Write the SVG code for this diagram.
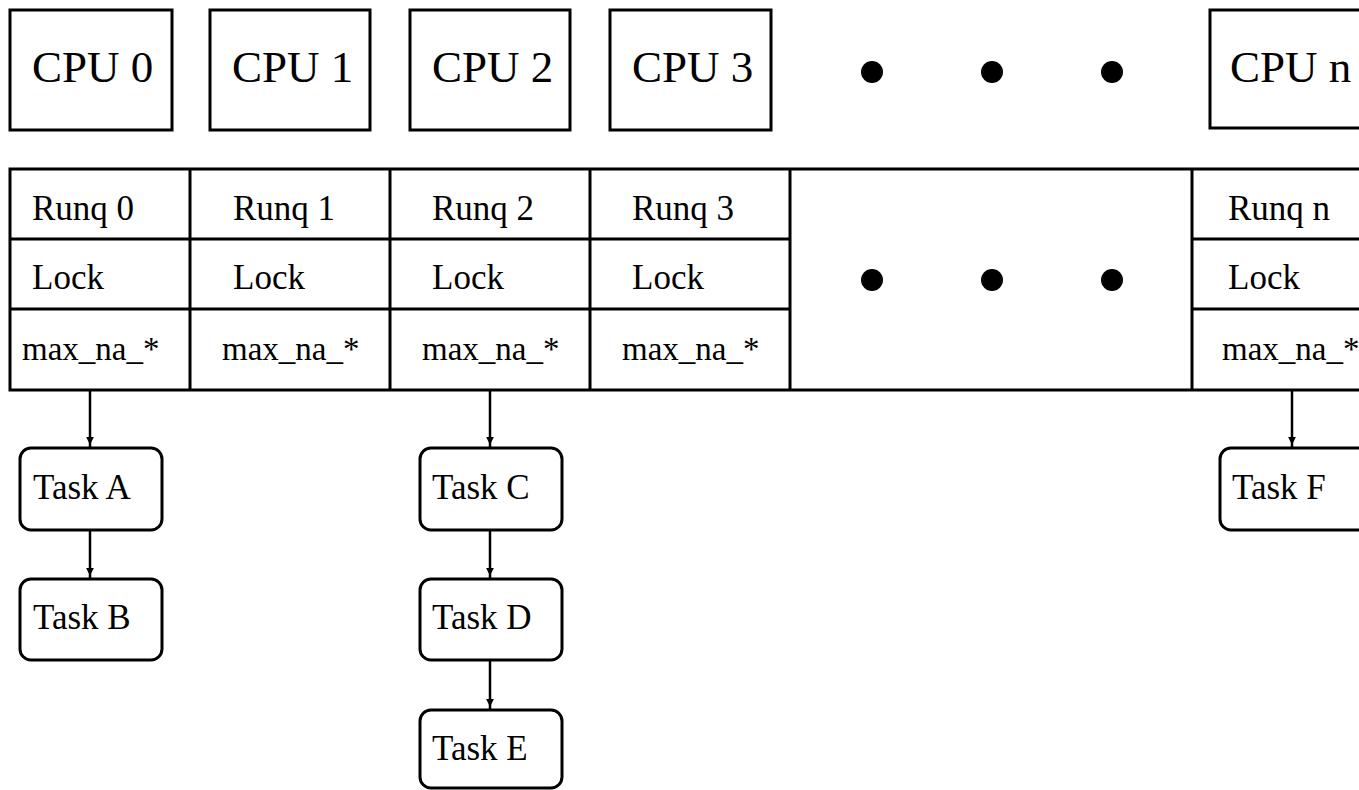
<svg xmlns="http://www.w3.org/2000/svg" width="1359" height="790" viewBox="0 0 1359 790">
<style>
.box{fill:#fff;stroke:#000;stroke-width:3}
.task{fill:#fff;stroke:#000;stroke-width:3}
.ln{stroke:#000;stroke-width:3;fill:none}
.cpu{font-family:"Liberation Serif",serif;font-size:45px;fill:#000}
.t{font-family:"Liberation Serif",serif;font-size:35px;fill:#000}
.m{font-family:"Liberation Serif",serif;font-size:33px;fill:#000}
.dot{fill:#000}
.con{stroke:#000;stroke-width:2.5;fill:none;marker-end:url(#ah)}
</style>
<defs>
<marker id="ah" markerUnits="userSpaceOnUse" viewBox="0 0 10 10" markerWidth="8" markerHeight="10" refX="14" refY="5" orient="auto">
<path d="M0,0 L10,5 L0,10 z" fill="#000"/>
</marker>
</defs>
<rect width="1359" height="790" fill="#fff"/>
<g id="cpu0"><rect class="box" x="10" y="10" width="162" height="120"/><text class="cpu" x="32" y="82">CPU 0</text></g>
<g id="cpu1"><rect class="box" x="210" y="10" width="160" height="120"/><text class="cpu" x="232" y="82">CPU 1</text></g>
<g id="cpu2"><rect class="box" x="410" y="10" width="160" height="120"/><text class="cpu" x="432" y="82">CPU 2</text></g>
<g id="cpu3"><rect class="box" x="610" y="10" width="161" height="120"/><text class="cpu" x="632" y="82">CPU 3</text></g>
<g id="cpu-dots"><circle class="dot" cx="872" cy="72" r="11"/><circle class="dot" cx="992" cy="72" r="11"/><circle class="dot" cx="1112" cy="72" r="11"/></g>
<g id="cpun"><rect class="box" x="1210" y="10" width="170" height="118"/><text class="cpu" x="1230" y="82">CPU n</text></g>
<g id="runq-table">
<rect class="box" x="10" y="169" width="1370" height="221"/>
<path class="ln" d="M10,239H790M10,309H790M1192,239H1359M1192,309H1359M190,169V390M390,169V390M590,169V390M790,169V390M1192,169V390"/>
</g>
<g id="runq0"><text class="t" x="32" y="220">Runq 0</text><text class="t" x="32" y="289">Lock</text><text class="m" x="22" y="360">max_na_*</text></g>
<g id="runq1"><text class="t" x="233" y="220">Runq 1</text><text class="t" x="233" y="289">Lock</text><text class="m" x="222" y="360">max_na_*</text></g>
<g id="runq2"><text class="t" x="432" y="220">Runq 2</text><text class="t" x="432" y="289">Lock</text><text class="m" x="422" y="360">max_na_*</text></g>
<g id="runq3"><text class="t" x="632" y="220">Runq 3</text><text class="t" x="632" y="289">Lock</text><text class="m" x="622" y="360">max_na_*</text></g>
<g id="runq-dots"><circle class="dot" cx="872" cy="280" r="11"/><circle class="dot" cx="992" cy="280" r="11"/><circle class="dot" cx="1112" cy="280" r="11"/></g>
<g id="runqn"><text class="t" x="1228" y="220">Runq n</text><text class="t" x="1228" y="289">Lock</text><text class="m" x="1222" y="360">max_na_*</text></g>
<g id="connectors">
<path class="con" d="M90,390V448"/>
<path class="con" d="M90,530V579"/>
<path class="con" d="M490,390V448"/>
<path class="con" d="M490,530V579"/>
<path class="con" d="M490,660V710"/>
<path class="con" d="M1292,390V448"/>
</g>
<g id="taskA"><rect class="task" x="20" y="448" width="142" height="82" rx="11"/><text class="t" x="33" y="499">Task A</text></g>
<g id="taskB"><rect class="task" x="20" y="579" width="142" height="81" rx="11"/><text class="t" x="33" y="629">Task B</text></g>
<g id="taskC"><rect class="task" x="420" y="448" width="142" height="82" rx="11"/><text class="t" x="432" y="499">Task C</text></g>
<g id="taskD"><rect class="task" x="420" y="579" width="142" height="81" rx="11"/><text class="t" x="432" y="629">Task D</text></g>
<g id="taskE"><rect class="task" x="420" y="710" width="142" height="78" rx="11"/><text class="t" x="432" y="760">Task E</text></g>
<g id="taskF"><rect class="task" x="1220" y="448" width="150" height="82" rx="11"/><text class="t" x="1232" y="499">Task F</text></g>
</svg>
